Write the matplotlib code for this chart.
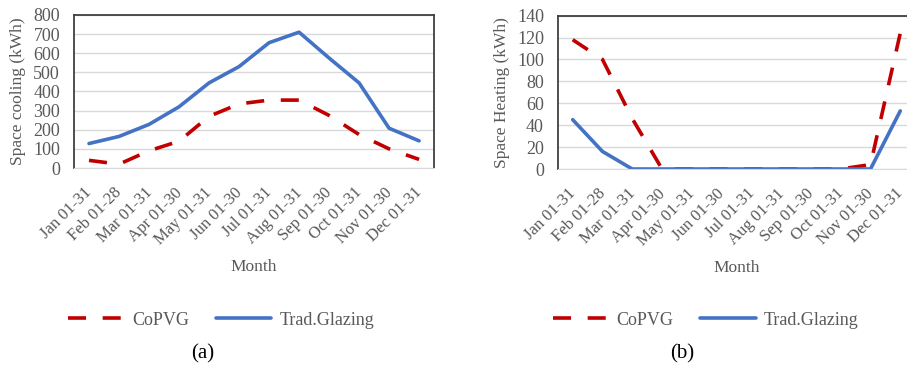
import numpy as np
import matplotlib.pyplot as plt
from matplotlib.transforms import ScaledTranslation

plt.rcParams['font.family'] = ['Liberation Serif', 'DejaVu Serif']

months = ['Jan 01-31', 'Feb 01-28', 'Mar 01-31', 'Apr 01-30', 'May 01-31', 'Jun 01-30',
          'Jul 01-31', 'Aug 01-31', 'Sep 01-30', 'Oct 01-31', 'Nov 01-30', 'Dec 01-31']

cool_copvg = [40, 20, 90, 140, 270, 335, 355, 355, 275, 175, 100, 45]
cool_trad = [128, 165, 228, 320, 445, 530, 655, 710, 575, 445, 208, 142]

heat_copvg = [118, 100, 46, 0, 0, 0, 0, 0, 0, 0, 4, 124]
heat_trad = [45, 16, 0, 0, 0, 0, 0, 0, 0, 0, 0, 53]

RED = '#C00000'
BLUE = '#4472C4'
GREY = '#595959'


def draw(ax, copvg, trad, ymax, ystep, ylabel, tag, leg_x, tag_x):
    x = np.arange(len(months))
    ax.plot(x, copvg, color=RED, lw=2.6, dashes=(5.0, 4.6), label='CoPVG')
    ax.plot(x, trad, color=BLUE, lw=2.6, label='Trad.Glazing', solid_capstyle='round')
    ax.set_xlim(-0.5, len(months) - 0.5)
    ax.set_ylim(0, ymax)
    ax.set_yticks(np.arange(0, ymax + 1, ystep))
    ax.set_xticks(x)
    ax.set_xticklabels(months, rotation=45, ha='right', rotation_mode='anchor')
    ax.tick_params(axis='both', length=0, colors=GREY)
    ax.tick_params(axis='y', pad=10, labelsize=13)
    ax.tick_params(axis='x', pad=12, labelsize=12)
    # nudge the slanted month labels left so the last one stays inside the figure
    shift = ScaledTranslation(-5 / 100, 0, fig.dpi_scale_trans)
    for lbl in ax.get_xticklabels():
        lbl.set_transform(lbl.get_transform() + shift)
    ax.grid(axis='y', color='#D9D9D9', lw=1)
    ax.set_axisbelow(True)
    for s in ['top', 'left', 'right']:
        ax.spines[s].set_color('#404040')
        ax.spines[s].set_linewidth(1.3)
    ax.spines['bottom'].set_color('#D9D9D9')
    ax.set_ylabel(ylabel, color=GREY, fontsize=12.5, labelpad=5)
    ax.set_xlabel('Month', color=GREY, fontsize=12.5, labelpad=8)
    fig.legend(handles=ax.get_lines(), loc='center', bbox_to_anchor=(leg_x, 0.128),
               ncol=2, frameon=False, fontsize=13, handlelength=3.1,
               handletextpad=0.45, columnspacing=1.45, labelcolor=GREY)
    fig.text(tag_x, 0.022, tag, ha='center', fontsize=15)


fig = plt.figure(figsize=(9.07, 3.67), dpi=100)
ax1 = fig.add_axes([0.0816, 0.5422, 0.397, 0.417])
ax2 = fig.add_axes([0.615, 0.5395, 0.394, 0.418])

draw(ax1, cool_copvg, cool_trad, 800, 100, 'Space cooling (kWh)', '(a)', 0.244, 0.224)
draw(ax2, heat_copvg, heat_trad, 140, 20, 'Space Heating (kWh)', '(b)', 0.778, 0.752)

fig.savefig('out.png', dpi=100)
